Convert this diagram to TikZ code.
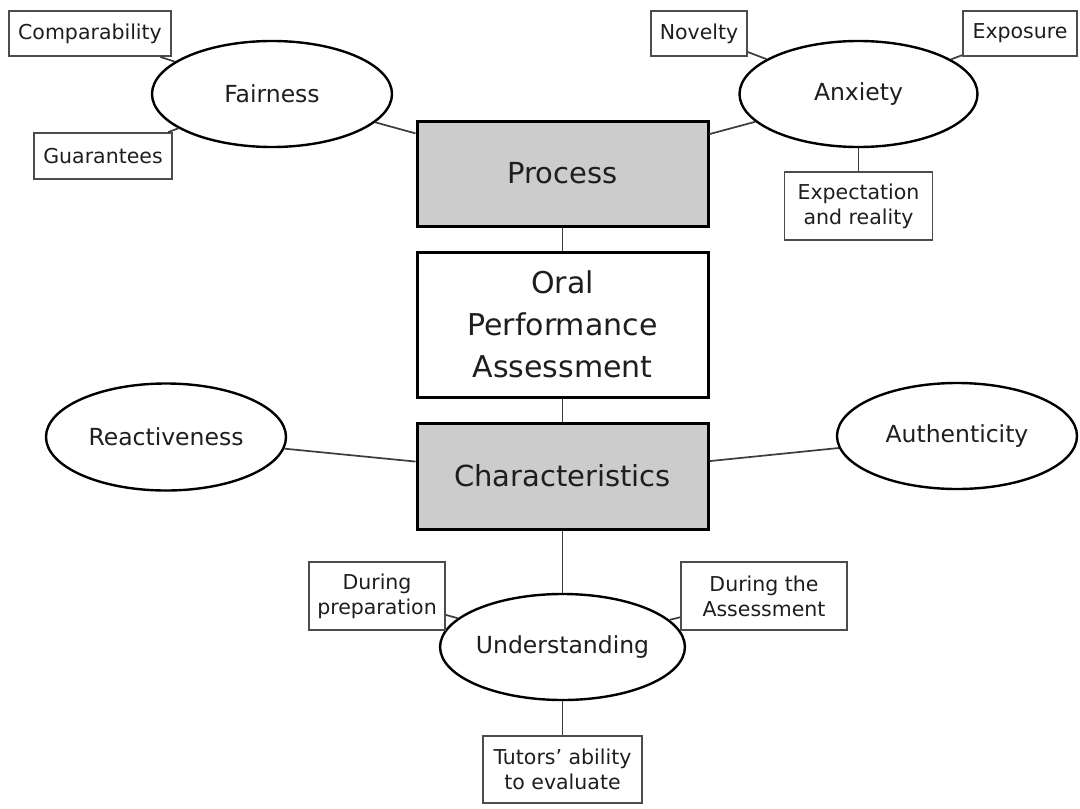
\documentclass[tikz,border=0pt]{standalone}
\usepackage{fontspec}
\setmainfont{DejaVu Sans}
\usetikzlibrary{shapes.geometric}
\definecolor{boxgray}{HTML}{CCCCCC}
\definecolor{txt}{HTML}{1E1E1E}
\definecolor{conn}{HTML}{3C3C3C}
\tikzset{
  mainbox/.style={draw=black, line width=3pt, fill=boxgray, inner sep=0pt, text=txt,
    minimum width=291pt, font=\fontsize{29}{36}\selectfont},
  oralbox/.style={draw=black, line width=3pt, fill=white, inner sep=0pt, text=txt, align=center,
    minimum width=291pt, minimum height=145pt, font=\fontsize{30}{42}\selectfont},
  oval/.style={ellipse, draw=black, line width=2.4pt, fill=white, inner sep=0pt, text=txt,
    minimum width=240pt, minimum height=106pt, font=\fontsize{23.5}{28}\selectfont},
  leaf/.style={draw=black!70, line width=1.8pt, fill=white, inner sep=0pt, text=txt, align=center,
    font=\fontsize{20.5}{25}\selectfont},
  link/.style={draw=conn, line width=1.7pt}
}
\begin{document}
\begin{tikzpicture}[x=1pt,y=-1pt]
\useasboundingbox[fill=white] (0,0) rectangle (1080,809);
% central column
\node[mainbox, minimum height=105pt] (proc) at (562.5,173.5) {Process};
\node[oralbox] (oral) at (562.5,324.5) {Oral\\Performance\\Assessment};
\node[mainbox, minimum height=106pt] (char) at (562.5,476) {Characteristics};
% ellipses
\node[oval] (fair) at (272,94) {Fairness};
\node[oval, minimum width=238pt] (anx) at (858.5,94) {Anxiety};
\node[oval, minimum height=107pt] (react) at (166,437) {Reactiveness};
\node[oval] (auth) at (957,436) {Authenticity};
\node[oval] (und) at (562.5,647) {Understanding};
% leaves
\node[leaf, minimum width=162pt, minimum height=45pt] (comp) at (90,33.5) {Comparability};
\node[leaf, minimum width=138pt, minimum height=46pt] (guar) at (103,156) {Guarantees};
\node[leaf, minimum width=96pt, minimum height=45pt] (nov) at (699,33.5) {Novelty};
\node[leaf, minimum width=114pt, minimum height=45pt] (expo) at (1020,33.5) {Exposure};
\node[leaf, minimum width=148pt, minimum height=68pt] (expect) at (858.5,206) {Expectation\\and reality};
\node[leaf, minimum width=136pt, minimum height=68pt] (prep) at (377,596) {During\\preparation};
\node[leaf, minimum width=166pt, minimum height=68pt] (dass) at (764,596) {During the\\Assessment};
\node[leaf, minimum width=159pt, minimum height=67pt] (tut) at (562.5,769.5) {Tutors’ ability\\to evaluate};
% connectors
\draw[link] (proc) -- (oral);
\draw[link] (oral) -- (char);
\draw[link] (fair) -- (proc);
\draw[link] (anx) -- (proc);
\draw[link] (comp) -- (fair);
\draw[link] (guar) -- (fair);
\draw[link] (nov) -- (anx);
\draw[link] (expo) -- (anx);
\draw[link] (anx) -- (expect);
\draw[link] (react) -- (char);
\draw[link] (auth) -- (char);
\draw[link] (char) -- (und);
\draw[link] (prep) -- (und);
\draw[link] (dass) -- (und);
\draw[link] (und) -- (tut);
\end{tikzpicture}
\end{document}
